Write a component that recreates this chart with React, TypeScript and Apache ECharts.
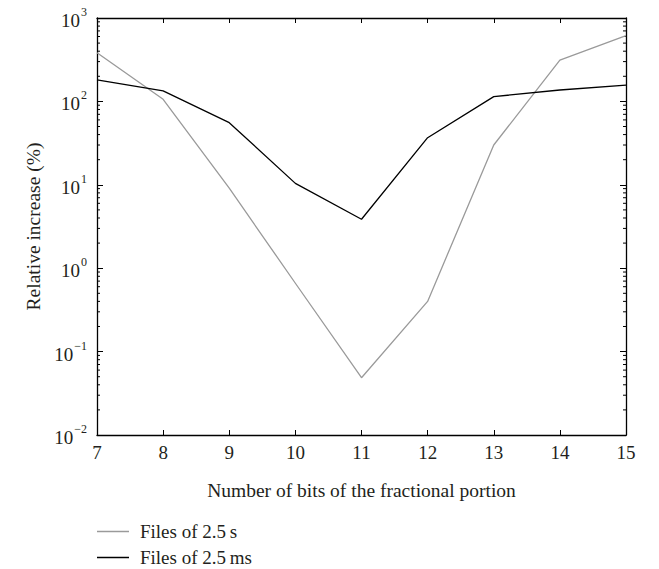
import React, { useEffect, useRef } from "react";
import * as echarts from "echarts";

const bits = [7, 8, 9, 10, 11, 12, 13, 14, 15];
const files25s = [384, 106, 9.1, 0.66, 0.0486, 0.4, 30, 313, 614];
const files25ms = [181, 134, 55.6, 10.4, 3.86, 36.7, 114, 137, 157];
const seriesNames = ["Files of 2.5\u2009s", "Files of 2.5\u2009ms"];
const decades = [-2, -1, 0, 1, 2];
const minorMultipliers = [2, 3, 4, 5, 6, 7, 8, 9];

const FONT = "'Liberation Serif', 'DejaVu Serif', serif";
const TEXT = "#231f20";

export default function App() {
  const ref = useRef<HTMLDivElement>(null);
  useEffect(() => {
    if (!ref.current) return;
    const chart = echarts.init(ref.current, null, { renderer: "svg" });
    const minorVals: number[][] = [];
    decades.forEach((d) =>
      minorMultipliers.forEach((m) => minorVals.push([7, m * Math.pow(10, d)]))
    );
    const supLabel = (v: number) => {
      const e = Math.round(Math.log10(v));
      const s = e < 0 ? "\u2212" + Math.abs(e) : String(e);
      return "{b|10}{s|" + s + "}";
    };
    const rich = {
      b: { fontFamily: FONT, fontSize: 19, color: TEXT, lineHeight: 24, verticalAlign: "bottom" },
      s: { fontFamily: FONT, fontSize: 12, color: TEXT, lineHeight: 24, verticalAlign: "top", padding: [0, 0, 7, 1] },
    };
    chart.setOption({
      animation: false,
      grid: { left: 97, top: 18, right: 33, bottom: 134, containLabel: false },
      legend: {
        orient: "vertical",
        left: 97,
        top: 522,
        height: 47,
        padding: 0,
        icon: "rect",
        itemWidth: 32,
        itemHeight: 1.5,
        itemGap: 7,
        textStyle: { fontFamily: FONT, fontSize: 19, color: TEXT, padding: [0, 0, 0, 6] },
        data: seriesNames,
      },
      xAxis: [
        {
          type: "value",
          min: 7,
          max: 15,
          interval: 1,
          name: "Number of bits of the fractional portion",
          nameLocation: "middle",
          nameGap: 45,
          nameTextStyle: { fontFamily: FONT, fontSize: 19.5, color: TEXT },
          axisLine: { lineStyle: { color: "#000", width: 1.3 } },
          axisTick: { inside: true, length: 5, lineStyle: { color: "#000" } },
          axisLabel: { fontFamily: FONT, fontSize: 19, color: TEXT, margin: 8 },
          splitLine: { show: false },
        },
        {
          type: "value",
          position: "top",
          min: 7,
          max: 15,
          interval: 1,
          axisLine: { lineStyle: { color: "#000", width: 1.3 } },
          axisTick: { inside: true, length: 5, lineStyle: { color: "#000" } },
          axisLabel: { show: false },
          splitLine: { show: false },
        },
      ],
      yAxis: [
        {
          type: "log",
          logBase: 10,
          min: 0.01,
          max: 1000,
          name: "Relative increase (%)",
          nameLocation: "middle",
          nameGap: 54,
          nameTextStyle: { fontFamily: FONT, fontSize: 19.5, color: TEXT },
          axisLine: { show: true, lineStyle: { color: "#000", width: 1.3 } },
          axisTick: { inside: true, length: 6, lineStyle: { color: "#000" } },
          axisLabel: { formatter: supLabel, rich, margin: 10 },
          splitLine: { show: false },
        },
        {
          type: "log",
          logBase: 10,
          min: 0.01,
          max: 1000,
          position: "right",
          axisLine: { show: true, lineStyle: { color: "#000", width: 1.3 } },
          axisTick: { inside: true, length: 6, lineStyle: { color: "#000" } },
          axisLabel: { show: false },
          splitLine: { show: false },
        },
      ],
      series: [
        {
          name: seriesNames[0],
          type: "line",
          data: bits.map((b, i) => [b, files25s[i]]),
          showSymbol: false,
          symbol: "none",
          lineStyle: { color: "#9a9a9a", width: 1.3 },
          itemStyle: { color: "#9a9a9a" },
        },
        {
          name: seriesNames[1],
          type: "line",
          data: bits.map((b, i) => [b, files25ms[i]]),
          showSymbol: false,
          symbol: "none",
          lineStyle: { color: "#000", width: 1.3 },
          itemStyle: { color: "#000" },
        },
        {
          type: "custom",
          silent: true,
          clip: false,
          data: minorVals,
          renderItem: (params: any, api: any) => {
            const v = api.value(1);
            const pL = api.coord([7, v]);
            const pR = api.coord([15, v]);
            return {
              type: "group",
              children: [
                { type: "line", shape: { x1: pL[0], y1: pL[1], x2: pL[0] + 3, y2: pL[1] }, style: { stroke: "#000", lineWidth: 1 } },
                { type: "line", shape: { x1: pR[0], y1: pR[1], x2: pR[0] - 3, y2: pR[1] }, style: { stroke: "#000", lineWidth: 1 } },
              ],
            };
          },
        },
      ],
    });
    return () => chart.dispose();
  }, []);
  return (
    <div
      ref={ref}
      style={{ position: "absolute", left: 0, top: 0, width: 659, height: 569 }}
    />
  );
}
